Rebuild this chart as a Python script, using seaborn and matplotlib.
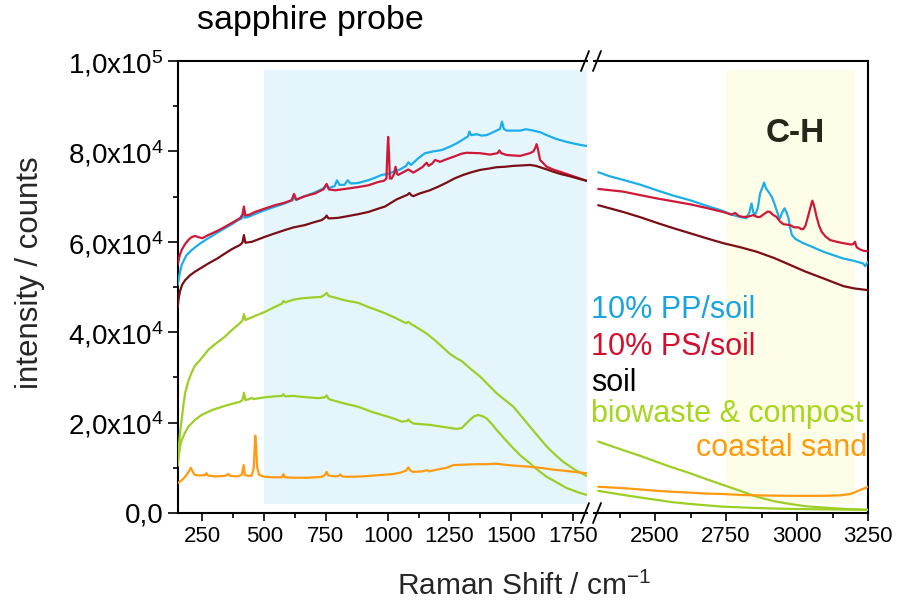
import numpy as np
import pandas as pd
import matplotlib
matplotlib.use("Agg")
import matplotlib.pyplot as plt
from matplotlib.lines import Line2D
from matplotlib import font_manager
import seaborn as sns

# ---------------- spectra, low-wavenumber window (cm-1, counts/1000) ----------------
pp_x_low = [150, 158, 166, 185, 207, 240, 274, 310, 341, 370, 395, 410, 416, 422, 440, 470, 503, 540, 584, 615,
            622, 630, 660, 700, 740, 752, 760, 785, 795, 805, 825, 838, 850, 880, 920, 950, 976, 1000, 1023, 1050,
            1075, 1084, 1095, 1120, 1151, 1185, 1219, 1250, 1280, 1310, 1325, 1331, 1338, 1361, 1380, 1401, 1441,
            1455, 1463, 1470, 1482, 1510, 1536, 1560, 1590, 1620, 1644, 1680, 1725, 1765, 1805]
pp_y_low = [50.4, 53.0, 54.9, 57.0, 58.2, 59.6, 60.8, 62.0, 63.0, 63.9, 64.8, 65.2, 66.0, 65.3, 65.6, 66.3, 67.0,
            67.7, 68.5, 69.2, 69.8, 69.3, 70.0, 70.8, 71.8, 72.6, 71.9, 72.3, 73.6, 72.6, 72.6, 73.6, 72.9, 73.0,
            73.6, 74.2, 74.8, 75.0, 75.5, 76.0, 76.8, 77.6, 77.0, 78.3, 79.6, 80.0, 80.3, 81.0, 81.8, 82.8, 83.3,
            84.4, 83.6, 83.8, 83.5, 83.6, 84.6, 85.0, 86.6, 85.0, 84.6, 84.6, 84.6, 84.9, 84.6, 84.2, 83.6, 82.8,
            82.1, 81.6, 81.2]

ps_x_low = [150, 158, 166, 180, 193, 205, 220, 235, 250, 274, 310, 341, 370, 402, 412, 418, 424, 440, 463, 500,
            544, 580, 611, 621, 630, 660, 706, 740, 753, 762, 787, 815, 841, 880, 922, 960, 985, 995, 999, 1002,
            1005, 1009, 1016, 1026, 1032, 1038, 1043, 1070, 1084, 1104, 1140, 1158, 1166, 1180, 1192, 1212, 1240,
            1266, 1300, 1320, 1374, 1414, 1445, 1452, 1460, 1482, 1536, 1576, 1590, 1598, 1603, 1608, 1617, 1644,
            1670, 1698, 1752, 1805]
ps_y_low = [54.9, 57.0, 58.2, 59.5, 60.4, 61.0, 61.3, 61.0, 60.8, 61.5, 62.4, 63.3, 64.2, 65.2, 66.0, 67.8, 65.8,
            66.0, 66.6, 67.3, 68.1, 68.6, 69.2, 70.6, 69.3, 70.0, 70.7, 71.6, 72.8, 71.6, 71.4, 71.6, 71.8, 72.1,
            72.5, 73.2, 73.5, 74.0, 80.0, 83.2, 80.0, 74.0, 74.0, 75.0, 76.6, 75.0, 74.8, 75.6, 76.0, 75.3, 76.5,
            77.5, 76.8, 77.3, 78.1, 77.7, 78.3, 78.8, 79.5, 79.7, 79.6, 79.3, 79.6, 80.2, 79.6, 79.2, 79.0, 79.6,
            80.0, 80.8, 81.6, 80.6, 78.1, 76.6, 76.0, 75.5, 74.5, 73.5]

soil_x_low = [150, 154, 159, 168, 180, 200, 220, 250, 274, 310, 341, 370, 402, 412, 418, 424, 450, 503, 540, 584,
              620, 665, 700, 733, 748, 753, 760, 773, 800, 841, 880, 922, 960, 989, 1037, 1080, 1088, 1096, 1104,
              1130, 1171, 1205, 1239, 1270, 1306, 1340, 1374, 1410, 1441, 1475, 1509, 1545, 1576, 1600, 1617,
              1645, 1671, 1700, 1738, 1770, 1805]
soil_y_low = [45.6, 47.5, 49.0, 50.5, 51.5, 52.6, 53.4, 54.4, 55.2, 56.3, 57.4, 58.4, 59.3, 59.8, 61.5, 59.8, 60.0,
              61.1, 61.8, 62.6, 63.2, 63.7, 64.3, 64.8, 65.4, 65.8, 65.2, 65.2, 65.3, 65.7, 66.1, 66.6, 67.3, 67.8,
              69.4, 70.4, 70.8, 70.3, 70.1, 70.7, 71.4, 72.2, 73.1, 74.0, 74.8, 75.4, 75.9, 76.2, 76.5, 76.6, 76.8,
              76.9, 77.0, 76.8, 76.5, 76.0, 75.5, 75.0, 74.5, 74.0, 73.5]

bio1_x_low = [150, 155, 160, 166, 173, 180, 192, 205, 220, 240, 274, 300, 341, 370, 402, 412, 418, 424, 450, 503,
              540, 572, 578, 585, 620, 652, 700, 730, 746, 753, 762, 790, 830, 881, 920, 960, 989, 1030, 1063, 1075,
              1084, 1095, 1120, 1158, 1200, 1252, 1280, 1300, 1340, 1374, 1410, 1441, 1475, 1509, 1540, 1576, 1610,
              1644, 1680, 1711, 1760, 1805]
bio1_y_low = [10.5, 15.0, 18.0, 20.6, 23.8, 26.5, 29.0, 30.9, 32.6, 33.8, 36.1, 37.3, 39.0, 40.5, 42.0, 42.6, 44.0,
              42.7, 43.3, 44.5, 45.5, 46.3, 46.9, 46.6, 47.2, 47.5, 47.7, 47.8, 48.3, 48.7, 48.0, 47.6, 47.0, 46.5,
              45.6, 44.8, 44.2, 43.2, 42.3, 42.0, 42.3, 41.8, 41.0, 39.7, 37.8, 35.2, 34.2, 33.6, 31.7, 30.2, 28.2,
              26.5, 25.0, 23.5, 21.5, 19.1, 16.9, 14.7, 12.8, 11.3, 9.5, 8.2]

bio2_x_low = [150, 155, 160, 166, 180, 193, 220, 247, 290, 341, 380, 402, 412, 418, 424, 440, 450, 456, 503, 540,
              572, 578, 585, 620, 652, 719, 746, 753, 762, 773, 820, 881, 940, 989, 1030, 1057, 1080, 1084, 1092,
              1104, 1171, 1230, 1280, 1300, 1318, 1333, 1350, 1367, 1385, 1401, 1420, 1441, 1475, 1509, 1540, 1576,
              1610, 1644, 1690, 1725, 1770, 1805]
bio2_y_low = [10.5, 13.0, 14.8, 16.1, 17.8, 19.1, 20.6, 21.7, 22.8, 23.7, 24.3, 24.6, 25.0, 26.6, 25.0, 25.2, 25.5,
              25.2, 25.6, 25.8, 25.9, 26.3, 25.8, 25.9, 25.7, 25.4, 25.6, 26.0, 25.2, 25.0, 24.3, 23.5, 22.3, 21.5,
              20.8, 20.2, 20.4, 20.7, 20.2, 19.8, 19.5, 19.0, 18.6, 18.8, 19.8, 20.6, 21.4, 21.7, 21.4, 20.9, 19.8,
              18.4, 16.3, 14.3, 12.6, 11.0, 9.4, 8.0, 6.6, 5.5, 4.6, 4.0]

sand_x_low = [150, 165, 180, 192, 203, 212, 220, 240, 260, 266, 272, 300, 340, 355, 362, 395, 410, 417, 422, 440,
              450, 458, 462, 464, 467, 472, 480, 503, 540, 572, 578, 584, 620, 679, 733, 746, 753, 760, 790, 800,
              809, 816, 832, 900, 969, 1020, 1050, 1075, 1084, 1094, 1104, 1140, 1160, 1168, 1200, 1239, 1266,
              1310, 1361, 1400, 1440, 1470, 1509, 1560, 1617, 1670, 1725, 1770, 1805]
sand_y_low = [6.6, 7.2, 8.0, 8.9, 10.0, 9.0, 8.4, 8.3, 8.4, 8.8, 8.3, 8.1, 8.2, 8.6, 8.2, 8.1, 8.5, 10.6, 8.4, 8.2,
              8.3, 10.0, 15.0, 17.1, 15.0, 10.0, 8.4, 8.0, 7.9, 7.9, 8.6, 7.9, 7.8, 7.8, 8.0, 8.4, 9.1, 8.3, 8.1,
              8.2, 8.5, 8.1, 8.0, 8.1, 8.4, 8.6, 8.9, 9.4, 10.1, 9.3, 9.1, 9.2, 9.5, 9.2, 9.6, 10.0, 10.6, 10.7,
              10.8, 10.8, 10.9, 10.7, 10.5, 10.3, 10.0, 9.6, 9.3, 9.0, 8.8]

# ---------------- spectra, C-H window ----------------
pp_x_high = [2300, 2340, 2388, 2450, 2506, 2560, 2623, 2680, 2740, 2770, 2799, 2822, 2832, 2840, 2846, 2852, 2862,
             2870, 2878, 2884, 2891, 2899, 2911, 2920, 2928, 2936, 2940, 2948, 2956, 2963, 2970, 2976, 2982, 2995,
             3022, 3060, 3093, 3130, 3163, 3200, 3233, 3240, 3250]
pp_y_high = [75.4, 74.5, 73.7, 72.6, 71.4, 70.3, 69.2, 68.0, 66.8, 66.0, 65.5, 65.2, 66.5, 68.5, 66.5, 65.9, 67.5,
             70.7, 72.0, 73.1, 71.8, 71.1, 70.0, 68.5, 67.0, 65.5, 65.2, 66.5, 67.4, 66.5, 65.2, 63.0, 61.5, 60.6,
             59.7, 58.7, 57.8, 57.0, 56.3, 55.8, 55.2, 54.6, 55.6]

ps_x_high = [2300, 2388, 2450, 2506, 2560, 2623, 2680, 2740, 2770, 2782, 2795, 2811, 2830, 2846, 2860, 2870, 2885,
             2897, 2905, 2915, 2928, 2940, 2952, 2975, 2990, 3005, 3015, 3022, 3030, 3040, 3048, 3054, 3060, 3069,
             3078, 3087, 3100, 3116, 3140, 3163, 3190, 3198, 3204, 3210, 3222, 3235, 3250]
ps_y_high = [71.7, 71.1, 70.3, 69.6, 69.0, 68.3, 67.5, 66.6, 66.0, 66.4, 65.7, 65.5, 65.6, 65.9, 65.5, 65.5, 66.2,
             66.7, 66.6, 66.0, 65.5, 64.5, 63.9, 63.7, 63.2, 63.2, 62.8, 62.8, 63.6, 65.9, 67.8, 69.1, 68.0, 65.5,
             63.5, 62.2, 61.2, 60.4, 60.0, 59.7, 59.4, 59.5, 60.0, 58.8, 58.3, 58.0, 57.9]

soil_x_high = [2300, 2388, 2450, 2506, 2560, 2623, 2680, 2740, 2800, 2858, 2920, 2975, 3030, 3093, 3130, 3163,
               3200, 3250]
soil_y_high = [68.1, 66.6, 65.4, 64.2, 63.1, 61.9, 60.8, 59.7, 58.8, 57.8, 56.4, 54.9, 53.4, 51.9, 51.0, 50.2,
               49.7, 49.3]

bio1_x_high = [2300, 2388, 2450, 2506, 2560, 2623, 2680, 2740, 2800, 2858, 2920, 2975, 3030, 3093, 3170, 3250]
bio1_y_high = [15.8, 13.9, 12.6, 11.3, 10.1, 8.8, 7.5, 6.2, 4.9, 3.6, 2.6, 2.0, 1.5, 1.2, 0.9, 0.7]

bio2_x_high = [2300, 2388, 2450, 2506, 2560, 2623, 2680, 2740, 2858, 2975, 3100, 3250]
bio2_y_high = [4.9, 4.0, 3.4, 2.9, 2.4, 2.0, 1.7, 1.4, 1.1, 0.9, 0.8, 0.7]

sand_x_high = [2300, 2388, 2450, 2506, 2560, 2623, 2680, 2740, 2800, 2858, 2975, 3093, 3150, 3187, 3205, 3222,
               3240, 3250]
sand_y_high = [5.8, 5.5, 5.2, 4.9, 4.7, 4.5, 4.3, 4.2, 4.0, 3.9, 3.8, 3.8, 3.9, 4.2, 4.6, 5.1, 5.5, 5.8]

# ---------------- axis ticks ----------------
y_major = [0, 20000, 40000, 60000, 80000, 100000]
y_labels = ["0,0", r"2,0x10$^{4}$", r"4,0x10$^{4}$", r"6,0x10$^{4}$", r"8,0x10$^{4}$", r"1,0x10$^{5}$"]
y_minor = [10000, 30000, 50000, 70000, 90000]
x_major_low = [250, 500, 750, 1000, 1250, 1500, 1750]
x_minor_low = [375, 625, 875, 1125, 1375, 1625]
x_major_high = [2500, 2750, 3000, 3250]
x_minor_high = [2375, 2625, 2875, 3125]

# ---------------- styling ----------------
c_pp = "#1CAEE8"
c_ps = "#CF1837"
c_soil = "#7A0E14"
c_bio = "#9CCF26"
c_sand = "#FF9A12"

sns.set_theme(style="ticks")
plt.rcParams["font.family"] = ["Liberation Sans", "DejaVu Sans"]
plt.rcParams["mathtext.fontset"] = "custom"
plt.rcParams["mathtext.rm"] = "Liberation Sans"
plt.rcParams["mathtext.it"] = "Liberation Sans:italic"
plt.rcParams["mathtext.bf"] = "Liberation Sans:bold"

installed = {f.name for f in font_manager.fontManager.ttflist}
narrow = "Liberation Sans Narrow" if "Liberation Sans Narrow" in installed else "Liberation Sans"

W, H = 898, 604
fig = plt.figure(figsize=(W / 100, H / 100), dpi=100)
fig.patch.set_facecolor("white")


def fx(px):
    return px / W


def fy(py):
    return 1 - py / H


top_px, bot_px = 61, 513
ax1 = fig.add_axes([fx(177.7), fy(bot_px), fx(586.5) - fx(177.7), (bot_px - top_px) / H])
ax2 = fig.add_axes([fx(594), fy(bot_px), fx(868) - fx(594), (bot_px - top_px) / H])

series = [
    (pp_x_low, pp_y_low, pp_x_high, pp_y_high, c_pp),
    (ps_x_low, ps_y_low, ps_x_high, ps_y_high, c_ps),
    (soil_x_low, soil_y_low, soil_x_high, soil_y_high, c_soil),
    (bio1_x_low, bio1_y_low, bio1_x_high, bio1_y_high, c_bio),
    (bio2_x_low, bio2_y_low, bio2_x_high, bio2_y_high, c_bio),
    (sand_x_low, sand_y_low, sand_x_high, sand_y_high, c_sand),
]

for xl, yl, xh, yh, col in series:
    sns.lineplot(x=np.array(xl), y=np.array(yl) * 1000, ax=ax1, color=col, linewidth=1.6,
                 estimator=None, sort=False, zorder=3)
    sns.lineplot(x=np.array(xh), y=np.array(yh) * 1000, ax=ax2, color=col, linewidth=1.6,
                 estimator=None, sort=False, zorder=3)

ax1.set_xlim(150, 1805)
ax2.set_xlim(2285, 3250)
for ax in (ax1, ax2):
    ax.set_ylim(0, 100000)
    ax.set_xlabel("")
    ax.set_ylabel("")
    ax.set_facecolor("white")
    for s in ax.spines.values():
        s.set_linewidth(1.5)
        s.set_color("black")

# highlighted spectral windows
ax1.axvspan(500, 1805, ymin=0.02, ymax=0.98, color="#E4F6FC", lw=0, zorder=0)
ax2.axvspan(2750, 3205, ymin=0.02, ymax=0.98, color="#FEFDE8", lw=0, zorder=0)

ax1.spines["right"].set_visible(False)
ax2.spines["left"].set_visible(False)

ax1.set_yticks(y_major)
ax1.set_yticklabels(y_labels)
ax1.set_yticks(y_minor, minor=True)
ax1.set_xticks(x_major_low)
ax1.set_xticks(x_minor_low, minor=True)
ax2.set_yticks([])
ax2.set_yticks([], minor=True)
ax2.set_xticks(x_major_high)
ax2.set_xticks(x_minor_high, minor=True)

for ax in (ax1, ax2):
    ax.tick_params(axis="both", which="major", direction="out", length=5.5, width=1.2, color="black",
                   labelcolor="black")
    ax.tick_params(axis="both", which="minor", direction="out", length=3.5, width=1.2, color="black")
    ax.tick_params(axis="x", labelsize=16, pad=4)
    for lab in ax.get_xticklabels():
        lab.set_family([narrow, "DejaVu Sans"])
ax1.tick_params(axis="y", which="major", length=7, labelsize=20, pad=3)

# axis break marks
def slash(cx, cy):
    fig.add_artist(Line2D([fx(cx - 4), fx(cx + 4)], [fy(cy + 10), fy(cy - 10)],
                          transform=fig.transFigure, color="black", lw=1.3))

for y0 in (top_px, bot_px):
    slash(585, y0)
    slash(597, y0)

# labels
fig.text(fx(197), fy(21), "sapphire probe", fontsize=24.5, ha="left", va="center", color="black")
fig.text(fx(30), fy(273), "intensity / counts", fontsize=22.5, rotation=90, ha="center", va="center")
fig.text(fx(524), fy(586), r"Raman Shift / cm$^{-1}$", fontsize=21.5, ha="center", va="center")
ax2.text(0.735, 0.84, "C-H", transform=ax2.transAxes, fontsize=24, fontweight="bold", color="#26261A",
         ha="center", va="center")

legend_items = [
    ("10% PP/soil", "#1AA3DF", 310, "left"),
    ("10% PS/soil", "#D2102E", 347, "left"),
    ("soil", "black", 383, "left"),
    ("biowaste & compost", "#A6D61E", 414, "left"),
    ("coastal sand", "#FF9A0C", 448, "right"),
]
for txt, col, ypx, ha in legend_items:
    xpx = 591 if ha == "left" else 867
    fig.text(fx(xpx), fy(ypx), txt, color=col, fontsize=22, ha=ha, va="center")

fig.savefig("out.png", dpi=100, facecolor="white")
